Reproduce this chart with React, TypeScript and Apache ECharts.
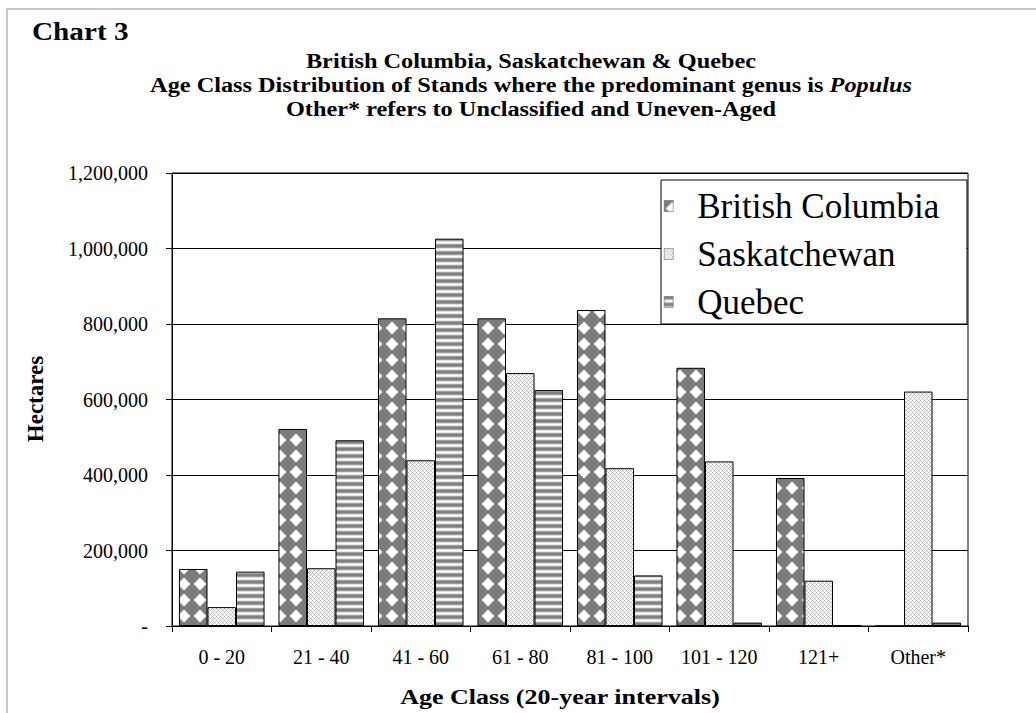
import React, { useEffect, useRef } from "react";
import * as echarts from "echarts";

const categories = ["0 - 20", "21 - 40", "41 - 60", "61 - 80", "81 - 100", "101 - 120", "121+", "Other*"];
const seriesNames = ["British Columbia", "Saskatchewan", "Quebec"];
const britishColumbia = [151000, 522000, 815000, 815000, 837000, 684000, 392000, 0];
const saskatchewan = [50000, 153000, 439000, 670000, 418000, 436000, 120000, 621000];
const quebec = [144000, 492000, 1026000, 625000, 134000, 9000, 2000, 9000];
const yMin = 0;
const yMax = 1200000;
const yInterval = 200000;
const chartLabel = "Chart 3";
const titleLine1 = "British Columbia, Saskatchewan & Quebec";
const titleLine2Plain = "Age Class Distribution of Stands where the predominant genus is ";
const titleLine2Italic = "Populus";
const titleLine3 = "Other* refers to Unclassified and Uneven-Aged";
const xAxisName = "Age Class (20-year intervals)";
const yAxisName = "Hectares";

const FONT = '"Liberation Serif", "Times New Roman", Times, serif';

function makeTile(w: number, h: number, draw: (ctx: CanvasRenderingContext2D) => void) {
  const c = document.createElement("canvas");
  c.width = w;
  c.height = h;
  const ctx = c.getContext("2d") as CanvasRenderingContext2D;
  draw(ctx);
  return { image: c, repeat: "repeat", imageWidth: w, imageHeight: h } as any;
}

// gray / white harlequin (rotated checkerboard)
function diamondPattern() {
  return makeTile(16, 16, (ctx) => {
    ctx.fillStyle = "#7c7c7c";
    ctx.fillRect(0, 0, 16, 16);
    ctx.fillStyle = "#ffffff";
    const r = 6.4;
    ctx.beginPath();
    ctx.moveTo(8, 8 - r);
    ctx.lineTo(8 + r, 8);
    ctx.lineTo(8, 8 + r);
    ctx.lineTo(8 - r, 8);
    ctx.closePath();
    ctx.fill();
  });
}

function crossPattern() {
  return makeTile(4, 4, (ctx) => {
    ctx.fillStyle = "#ffffff";
    ctx.fillRect(0, 0, 4, 4);
    ctx.fillStyle = "#a8a8a8";
    ctx.fillRect(0, 0, 1, 1);
    ctx.fillRect(2, 2, 1, 1);
    ctx.fillStyle = "#c8c8c8";
    ctx.fillRect(1, 1, 1, 1);
    ctx.fillRect(3, 3, 1, 1);
    ctx.fillRect(1, 3, 1, 1);
    ctx.fillRect(3, 1, 1, 1);
  });
}

function stripePattern() {
  return makeTile(4, 7, (ctx) => {
    const rows = ["#808080", "#808080", "#9a9a9a", "#e0e0e0", "#ffffff", "#e6e6e6", "#a0a0a0"];
    rows.forEach((col, i) => {
      ctx.fillStyle = col;
      ctx.fillRect(0, i, 4, 1);
    });
  });
}

export default function App() {
  const ref = useRef<HTMLDivElement>(null);

  useEffect(() => {
    if (!ref.current) return;
    const chart = echarts.init(ref.current, undefined, { renderer: "svg" });
    const patterns = [diamondPattern(), crossPattern(), stripePattern()];
    const values = [britishColumbia, saskatchewan, quebec];

    const titleSize = 20;
    const titleScale = 1.215;

    chart.setOption({
      animation: false,
      backgroundColor: "#ffffff",
      textStyle: { fontFamily: FONT, color: "#000" },
      grid: {
        left: 172,
        right: 68,
        top: 173,
        bottom: 87,
        show: true,
        borderColor: "#000",
        borderWidth: 1,
        backgroundColor: "transparent",
      },
      legend: {
        orient: "vertical",
        left: 664,
        top: 187,
        padding: 0,
        icon: "rect",
        itemWidth: 9,
        itemHeight: 11,
        itemGap: 10,
        z: 5,
        data: seriesNames,
        itemStyle: { borderColor: "#555", borderWidth: 0.5 },
        textStyle: {
          fontFamily: FONT,
          fontSize: 35,
          lineHeight: 38,
          color: "#000",
          padding: [0, 0, 0, 19],
        },
      },
      xAxis: {
        type: "category",
        data: categories,
        axisLine: { lineStyle: { color: "#000", width: 1 } },
        axisTick: { show: true, length: 6, lineStyle: { color: "#000" } },
        axisLabel: { fontFamily: FONT, fontSize: 20, color: "#000", margin: 21, interval: 0 },
      },
      yAxis: {
        type: "value",
        min: yMin,
        max: yMax,
        interval: yInterval,
        axisLine: { show: true, lineStyle: { color: "#000", width: 1 } },
        axisTick: { show: true, length: 6, lineStyle: { color: "#000" } },
        splitLine: { show: true, lineStyle: { color: "#000", width: 1 } },
        axisLabel: {
          fontFamily: FONT,
          fontSize: 20,
          color: "#000",
          margin: 24,
          formatter: (v: number) => (v === 0 ? "-" : v.toLocaleString("en-US")),
        },
      },
      series: seriesNames.map((name, i) => ({
        name,
        type: "bar",
        data: values[i],
        barGap: "0%",
        barCategoryGap: "14%",
        itemStyle: { color: patterns[i], borderColor: "#000", borderWidth: 1 },
        emphasis: { disabled: true },
      })),
      graphic: [
        {
          type: "rect",
          z: -10,
          shape: { x: 7, y: 9, width: 1200, height: 900 },
          style: { fill: "rgba(0,0,0,0)", stroke: "#c8c8c8", lineWidth: 2 },
        },
        {
          type: "rect",
          z: 3,
          shape: { x: 661, y: 180, width: 306, height: 144 },
          style: { fill: "#ffffff", stroke: "#000", lineWidth: 1 },
        },
        {
          type: "text",
          x: 32,
          y: 32,
          scaleX: 1.17,
          style: {
            text: chartLabel,
            fontFamily: FONT,
            fontWeight: "bold",
            fontSize: 25,
            align: "left",
            verticalAlign: "middle",
            fill: "#000",
          },
        },
        {
          type: "text",
          x: 531,
          y: 61,
          scaleX: titleScale,
          style: {
            text: titleLine1,
            fontFamily: FONT,
            fontWeight: "bold",
            fontSize: titleSize,
            align: "center",
            verticalAlign: "middle",
            fill: "#000",
          },
        },
        {
          type: "text",
          x: 531,
          y: 85,
          scaleX: titleScale,
          style: {
            text: "{n|" + titleLine2Plain + "}{i|" + titleLine2Italic + "}",
            align: "center",
            verticalAlign: "middle",
            fill: "#000",
            rich: {
              n: { fontFamily: FONT, fontWeight: "bold", fontSize: titleSize, fill: "#000" },
              i: { fontFamily: FONT, fontWeight: "bold", fontStyle: "italic", fontSize: titleSize, fill: "#000" },
            },
          },
        },
        {
          type: "text",
          x: 531,
          y: 109,
          scaleX: titleScale,
          style: {
            text: titleLine3,
            fontFamily: FONT,
            fontWeight: "bold",
            fontSize: titleSize,
            align: "center",
            verticalAlign: "middle",
            fill: "#000",
          },
        },
        {
          type: "text",
          x: 560,
          y: 697,
          scaleX: 1.24,
          style: {
            text: xAxisName,
            fontFamily: FONT,
            fontWeight: "bold",
            fontSize: 21,
            align: "center",
            verticalAlign: "middle",
            fill: "#000",
          },
        },
        {
          type: "text",
          x: 35,
          y: 399,
          rotation: Math.PI / 2,
          style: {
            text: yAxisName,
            fontFamily: FONT,
            fontWeight: "bold",
            fontSize: 23,
            align: "center",
            verticalAlign: "middle",
            fill: "#000",
          },
        },
      ],
    });
    return () => chart.dispose();
  }, []);

  return (
    <div
      ref={ref}
      style={{ position: "fixed", left: 0, top: 0, width: 1036, height: 713, background: "#fff" }}
    />
  );
}
